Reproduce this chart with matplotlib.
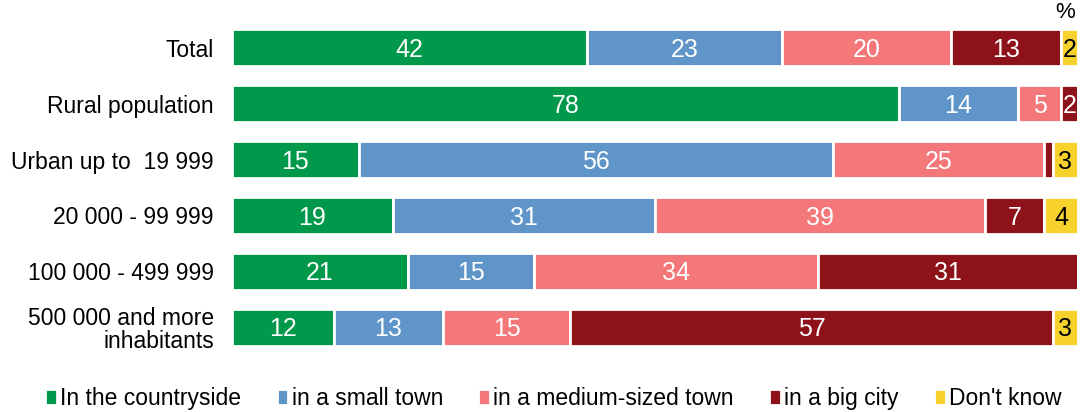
import matplotlib

matplotlib.use("Agg")
import matplotlib.pyplot as plt  # noqa: E402
import numpy as np  # noqa: E402

plt.rcParams["font.family"] = ["Liberation Sans", "DejaVu Sans"]

categories = [
    "Total",
    "Rural population",
    "Urban up to  19 999",
    "20 000 - 99 999",
    "100 000 - 499 999",
    "500 000 and more\ninhabitants",
]
series = ["In the countryside", "in a small town", "in a medium-sized town", "in a big city", "Don't know"]
countryside = [42, 78, 15, 19, 21, 12]
small_town = [23, 14, 56, 31, 15, 13]
medium_town = [20, 5, 25, 39, 34, 15]
big_city = [13, 2, 1, 7, 31, 57]
dont_know = [2, 0, 3, 4, 0, 3]

colors = ["#00984A", "#5F95C8", "#F47779", "#8E1219", "#F7D12C"]
text_colors = ["white", "white", "white", "white", "black"]

values = np.array([countryside, small_town, medium_town, big_city, dont_know], dtype=float)
widths = values / values.sum(axis=0) * 100  # 100% stacked, like the source

fig = plt.figure(figsize=(10.81, 4.12), dpi=100)
ax = fig.add_axes([0.2146, 0.1383, 0.7826, 0.8132])
y = np.arange(len(categories))
left = np.zeros(len(categories))
for i, name in enumerate(series):
    ax.barh(y, widths[i], left=left, height=0.66, color=colors[i],
            edgecolor="white", linewidth=2, label=name)
    for j in range(len(categories)):
        v = values[i, j]
        if v >= 2:
            ax.text(left[j] + widths[i, j] / 2, y[j] + 0.04, f"{v:.0f}", ha="center", va="center",
                    color=text_colors[i], fontsize=18)
    left += widths[i]

ax.set_xlim(0, 100)
ax.set_ylim(5.5, -0.5)
ax.set_yticks(y)
ax.set_yticklabels(categories, fontsize=16.5, ha="right", linespacing=1.0)
ax.tick_params(axis="y", length=0, pad=13)
ax.set_xticks([])
for s in ax.spines.values():
    s.set_visible(False)

fig.text(0.985, 0.97, "%", fontsize=16, ha="center", va="center")
fig.legend(loc="lower center", bbox_to_anchor=(0.512, -0.045), ncol=5, frameon=False,
           fontsize=16.5, handlelength=0.5, handleheight=0.7, handletextpad=0.15,
           columnspacing=1.55)

fig.savefig("out.png", dpi=100)
